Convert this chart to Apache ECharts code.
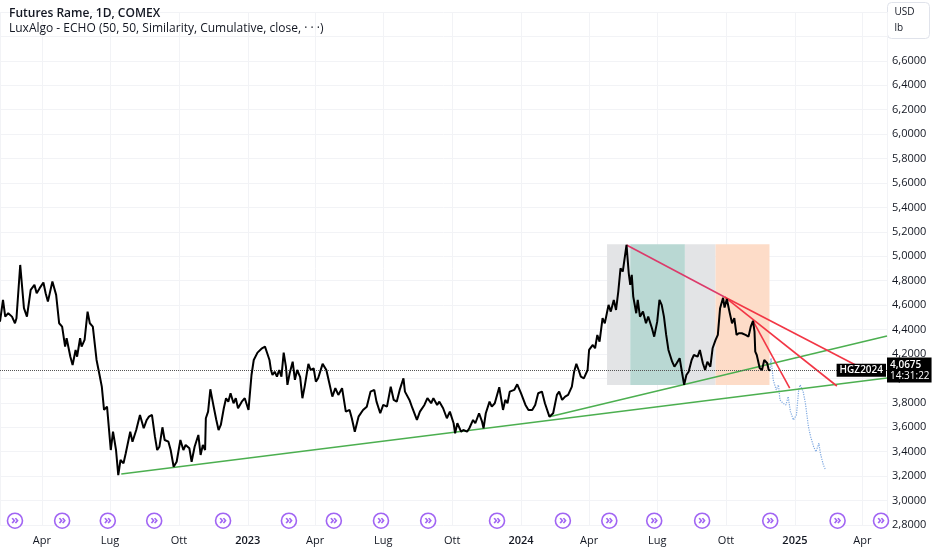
<!DOCTYPE html>
<html>
<head>
<meta charset="utf-8">
<script src="https://cdn.jsdelivr.net/npm/echarts@6/dist/echarts.min.js"></script>
<style>
  html, body { margin: 0; padding: 0; background: #fff; }
  #chart { width: 932px; height: 550px; }
</style>
</head>
<body>
<div id="chart"></div>
<script>
// giorni contati dal 1 gen 2022
var DAY = 86400000;
var BASE = Date.UTC(2022, 0, 1);
function t(d) { return BASE + d * DAY; }

var monthLabels = ['Gen', 'Feb', 'Mar', 'Apr', 'Mag', 'Giu', 'Lug', 'Ago', 'Set', 'Ott', 'Nov', 'Dic'];

// prezzo di chiusura (HG, USD/lb)
var priceDay = [34,38,41,45,50,54,56,61,66,70,75,80,83,87,92,95,98,104,109,113,117,121,123,128,131,135,137,141,143,147,
  151,154,158,163,167,170,173,177,182,185,189,192,195,199,202,208,211,216,221,226,230,233,237,241,244,247,251,254,259,262,
  266,270,275,279,282,287,290,294,299,302,305,308,309,312,315,319,323,326,329,331,333,336,339,342,346,349,352,357,361,366,
  370,373,378,384,388,391,394,396,398,401,404,407,410,413,416,418,421,425,428,431,435,438,441,446,449,453,456,459,465,470,
  474,478,482,486,491,496,501,504,508,513,519,524,529,534,537,542,546,551,556,560,564,568,573,575,577,581,585,591,595,601,
  605,610,613,618,621,626,631,635,640,642,645,650,653,658,661,666,669,674,678,680,683,688,691,695,701,706,709,712,715,721,
  725,730,736,740,745,749,753,758,762,768,773,778,781,785,789,793,798,801,804,807,810,814,819,821,826,829,832,835,839,842,
  847,850,854,857,860,863,866,871,874,876,878,880,884,886,889,893,897,900,905,908,912,915,918,921,924,927,932,935,938,942,
  945,948,951,954,958,961,966,969,973,976,979,983,986,990,993,996,1000,1002,1005,1009,1012,1015,1018,1021,1025,1030,1034,1037,1040,1042,
  1043,1045,1049,1052,1055,1059,1061,1063];
var priceVal = [4.465,4.643,4.506,4.534,4.506,4.452,4.493,4.929,4.575,4.506,4.725,4.766,4.698,4.739,4.785,4.698,4.629,4.793,4.684,4.452,4.424,4.260,4.329,4.178,4.110,4.233,4.178,4.329,4.260,4.315,
  4.547,4.452,4.424,4.151,4.028,3.933,3.742,3.769,3.414,3.564,3.414,3.209,3.332,3.305,3.387,3.564,3.482,3.578,3.701,3.592,3.660,3.687,3.701,3.523,3.414,3.441,3.600,3.496,3.482,3.414,
  3.277,3.318,3.496,3.414,3.455,3.428,3.318,3.441,3.537,3.373,3.455,3.414,3.674,3.728,3.911,3.783,3.660,3.578,3.619,3.605,3.756,3.838,3.810,3.879,3.797,3.838,3.756,3.810,3.838,3.742,
  4.028,4.151,4.211,4.247,4.260,4.206,4.151,4.069,4.028,4.055,4.015,4.069,4.015,4.211,4.096,3.947,4.042,4.137,3.988,4.069,4.010,3.838,3.933,4.119,4.069,4.083,3.974,4.001,4.119,4.069,
  3.960,3.851,3.920,3.865,3.920,3.728,3.742,3.674,3.564,3.687,3.742,3.769,3.892,3.906,3.810,3.715,3.783,3.769,3.933,3.824,3.810,3.906,4.001,3.892,3.906,3.824,3.756,3.660,3.728,3.783,
  3.838,3.797,3.838,3.783,3.810,3.756,3.674,3.728,3.633,3.551,3.633,3.564,3.578,3.564,3.592,3.660,3.633,3.715,3.646,3.592,3.715,3.810,3.769,3.797,3.928,3.742,3.824,3.797,3.892,3.906,
  3.952,3.879,3.783,3.742,3.742,3.783,3.879,3.892,3.797,3.687,3.715,3.865,3.892,3.824,3.851,3.865,3.933,4.055,4.119,4.069,4.015,4.001,4.069,4.233,4.274,4.247,4.356,4.301,4.493,4.452,
  4.602,4.547,4.643,4.561,4.711,4.902,4.875,5.093,4.861,4.766,4.848,4.670,4.534,4.643,4.506,4.547,4.452,4.506,4.411,4.342,4.465,4.643,4.602,4.506,4.356,4.233,4.137,4.096,4.124,4.165,
  4.055,3.947,4.028,4.055,4.151,4.192,4.178,4.233,4.124,4.069,4.137,4.096,4.247,4.315,4.356,4.575,4.660,4.580,4.650,4.534,4.452,4.493,4.356,4.370,4.370,4.356,4.342,4.424,4.471,4.383,
  4.219,4.192,4.083,4.069,4.151,4.124,4.069,4.0675];

// proiezione ECHO (punteggiata)
var echoDay = [1063,1064,1067,1071,1074,1076,1080,1084,1087,1090,1094,1098,1101,1103,1107,1110,1114,1117,1121,1124,1128,1130,1134,1137];
var echoVal = [4.0675,4.165,3.988,3.906,3.947,3.824,3.797,3.783,3.851,3.728,3.660,3.701,3.906,3.947,3.892,3.797,3.605,3.523,3.441,3.400,3.469,3.387,3.291,3.250];

// trendline verdi [giorno, prezzo]
var greenLow = [[196, 3.218], [1219, 4.004]];
var greenHigh = [[768, 3.687], [1219, 4.348]];
// trendline rosse
var redA = [[871, 5.093], [1002, 4.667]];
var redB = [[1002, 4.667], [1177, 4.110]];
var redC = [[1002, 4.667], [1152, 3.938]];
var redD = [[1040, 4.471], [1089, 3.920]];

// zone ECHO [inizio, fine]
var zoneTop = 5.099, zoneBottom = 3.947;
var greyZones = [[845, 876], [949, 990]];
var tealZone = [876, 949];
var orangeZone = [990, 1062];

// cambi di contratto
var rollDay = [54,117,178,240,332,420,480,543,606,698,786,848,908,972,1063,1153,1211];

var lastPrice = 4.0675;
var ticker = 'HGZ2024';
var countdown = '14:31:22';
var xMinDay = 34, xMaxDay = 1219;

function pts(days, vals) {
  return days.map(function (d, i) { return [t(d), vals[i]]; });
}
function seg(p) {
  return p.map(function (q) { return [t(q[0]), q[1]]; });
}
function fmtPrice(v) { return v.toFixed(4).replace('.', ','); }

var myChart = echarts.init(document.getElementById('chart'));

function zone(z, color) {
  return [{ xAxis: t(z[0]), yAxis: zoneTop, itemStyle: { color: color } }, { xAxis: t(z[1]), yAxis: zoneBottom }];
}

function trend(name, p, color) {
  return {
    name: name, type: 'line', data: seg(p), symbol: 'none', silent: true, z: 4,
    lineStyle: { color: color, width: 1.6 }
  };
}

option = {
  useUTC: true,
  animation: false,
  backgroundColor: '#ffffff',
  textStyle: { fontFamily: 'Open Sans' },
  title: {
    text: 'Futures Rame, 1D, COMEX',
    subtext: 'LuxAlgo - ECHO (50, 50, Similarity, Cumulative, close, · · ·)',
    left: 4, top: 3, itemGap: 3,
    textStyle: { fontSize: 12, fontWeight: 600, color: '#131722', fontFamily: 'Open Sans' },
    subtextStyle: { fontSize: 12, color: '#131722', fontFamily: 'Open Sans' }
  },
  grid: { left: 0, right: 45, top: 12, bottom: 25 },
  xAxis: {
    type: 'time',
    min: t(xMinDay), max: t(xMaxDay),
    splitNumber: 13,
    axisLine: { show: false },
    axisTick: { show: false },
    splitLine: { show: true, lineStyle: { color: '#f2f3f6', width: 1 } },
    axisLabel: {
      color: '#131722', fontSize: 11, margin: 10,
      showMinLabel: false, showMaxLabel: false,
      formatter: function (value) {
        var d = new Date(value);
        var m = d.getUTCMonth();
        return m === 0 ? '{y|' + d.getUTCFullYear() + '}' : monthLabels[m];
      },
      rich: { y: { fontSize: 11, fontWeight: 600, color: '#131722' } }
    }
  },
  yAxis: {
    type: 'value', position: 'right',
    min: 2.8, max: 7.0, interval: 0.2,
    axisLine: { show: false }, axisTick: { show: false },
    splitLine: { lineStyle: { color: '#f2f3f6', width: 1 } },
    axisLabel: {
      color: '#131722', fontSize: 11, margin: 5,
      formatter: function (v) { return v > 6.7 ? '' : fmtPrice(v); }
    }
  },
  graphic: [{
    type: 'group', right: 2, top: 2,
    children: [
      { type: 'rect', shape: { x: 0, y: 0, width: 42, height: 36, r: 4 },
        style: { fill: '#fff', stroke: '#e0e3eb', lineWidth: 1 } },
      { type: 'text', x: 7, y: 5, style: { text: 'USD', fill: '#131722', fontSize: 10, fontFamily: 'Open Sans' } },
      { type: 'text', x: 7, y: 21, style: { text: 'lb', fill: '#131722', fontSize: 10, fontFamily: 'Open Sans' } }
    ]
  }],
  series: [
    {
      name: 'zone', type: 'line', data: [], silent: true,
      markArea: {
        silent: true,
        data: [
          zone(greyZones[0], '#e3e4e6'),
          zone(tealZone, '#b9d8d3'),
          zone(greyZones[1], '#e3e4e6'),
          zone(orangeZone, '#fddcc8')
        ]
      }
    },
    trend('verde basso', greenLow, '#4caf50'),
    trend('verde alto', greenHigh, '#4caf50'),
    trend('rossa A', redA, '#dc3a6a'),
    trend('rossa B', redB, '#f23645'),
    trend('rossa C', redC, '#f23645'),
    trend('rossa D', redD, '#f23645'),
    {
      name: 'ECHO', type: 'line', data: pts(echoDay, echoVal), symbol: 'none', z: 3,
      lineStyle: { color: '#7ea8e0', width: 1.2, type: 'dotted' }
    },
    {
      name: ticker, type: 'line', data: pts(priceDay, priceVal), symbol: 'none', z: 6,
      lineStyle: { color: '#000000', width: 2 },
      markLine: {
        silent: true, symbol: 'none',
        lineStyle: { color: '#555', type: 'dotted', width: 1 },
        label: {
          position: 'end', distance: 0,
          formatter: '{a|' + fmtPrice(lastPrice) + '}\n{b|' + countdown + '}',
          backgroundColor: '#000', padding: [2, 2, 1, 3],
          rich: {
            a: { color: '#fff', fontSize: 10, fontWeight: 600, lineHeight: 11, fontFamily: 'Open Sans' },
            b: { color: '#fff', fontSize: 10, lineHeight: 11, fontFamily: 'Open Sans' }
          }
        },
        data: [{ yAxis: lastPrice }]
      },
      markPoint: {
        silent: true, symbolSize: 0,
        data: [{
          coord: [t(xMaxDay), lastPrice],
          label: {
            show: true, position: 'left', distance: 1, formatter: ticker,
            backgroundColor: '#000', color: '#fff', fontSize: 10, fontWeight: 600,
            padding: [2, 3, 1, 3]
          }
        }]
      }
    },
    {
      name: 'roll', type: 'scatter', z: 7, silent: true,
      data: rollDay.map(function (d) { return [t(d), 2.835]; }),
      symbol: 'circle', symbolSize: 15,
      itemStyle: { color: '#ffffff', borderColor: '#8a3ff0', borderWidth: 1.6 },
      label: { show: true, position: 'inside', formatter: '»', color: '#8a3ff0', fontSize: 13, fontWeight: 'bold' }
    }
  ]
};
myChart.setOption(option);
</script>
</body>
</html>
